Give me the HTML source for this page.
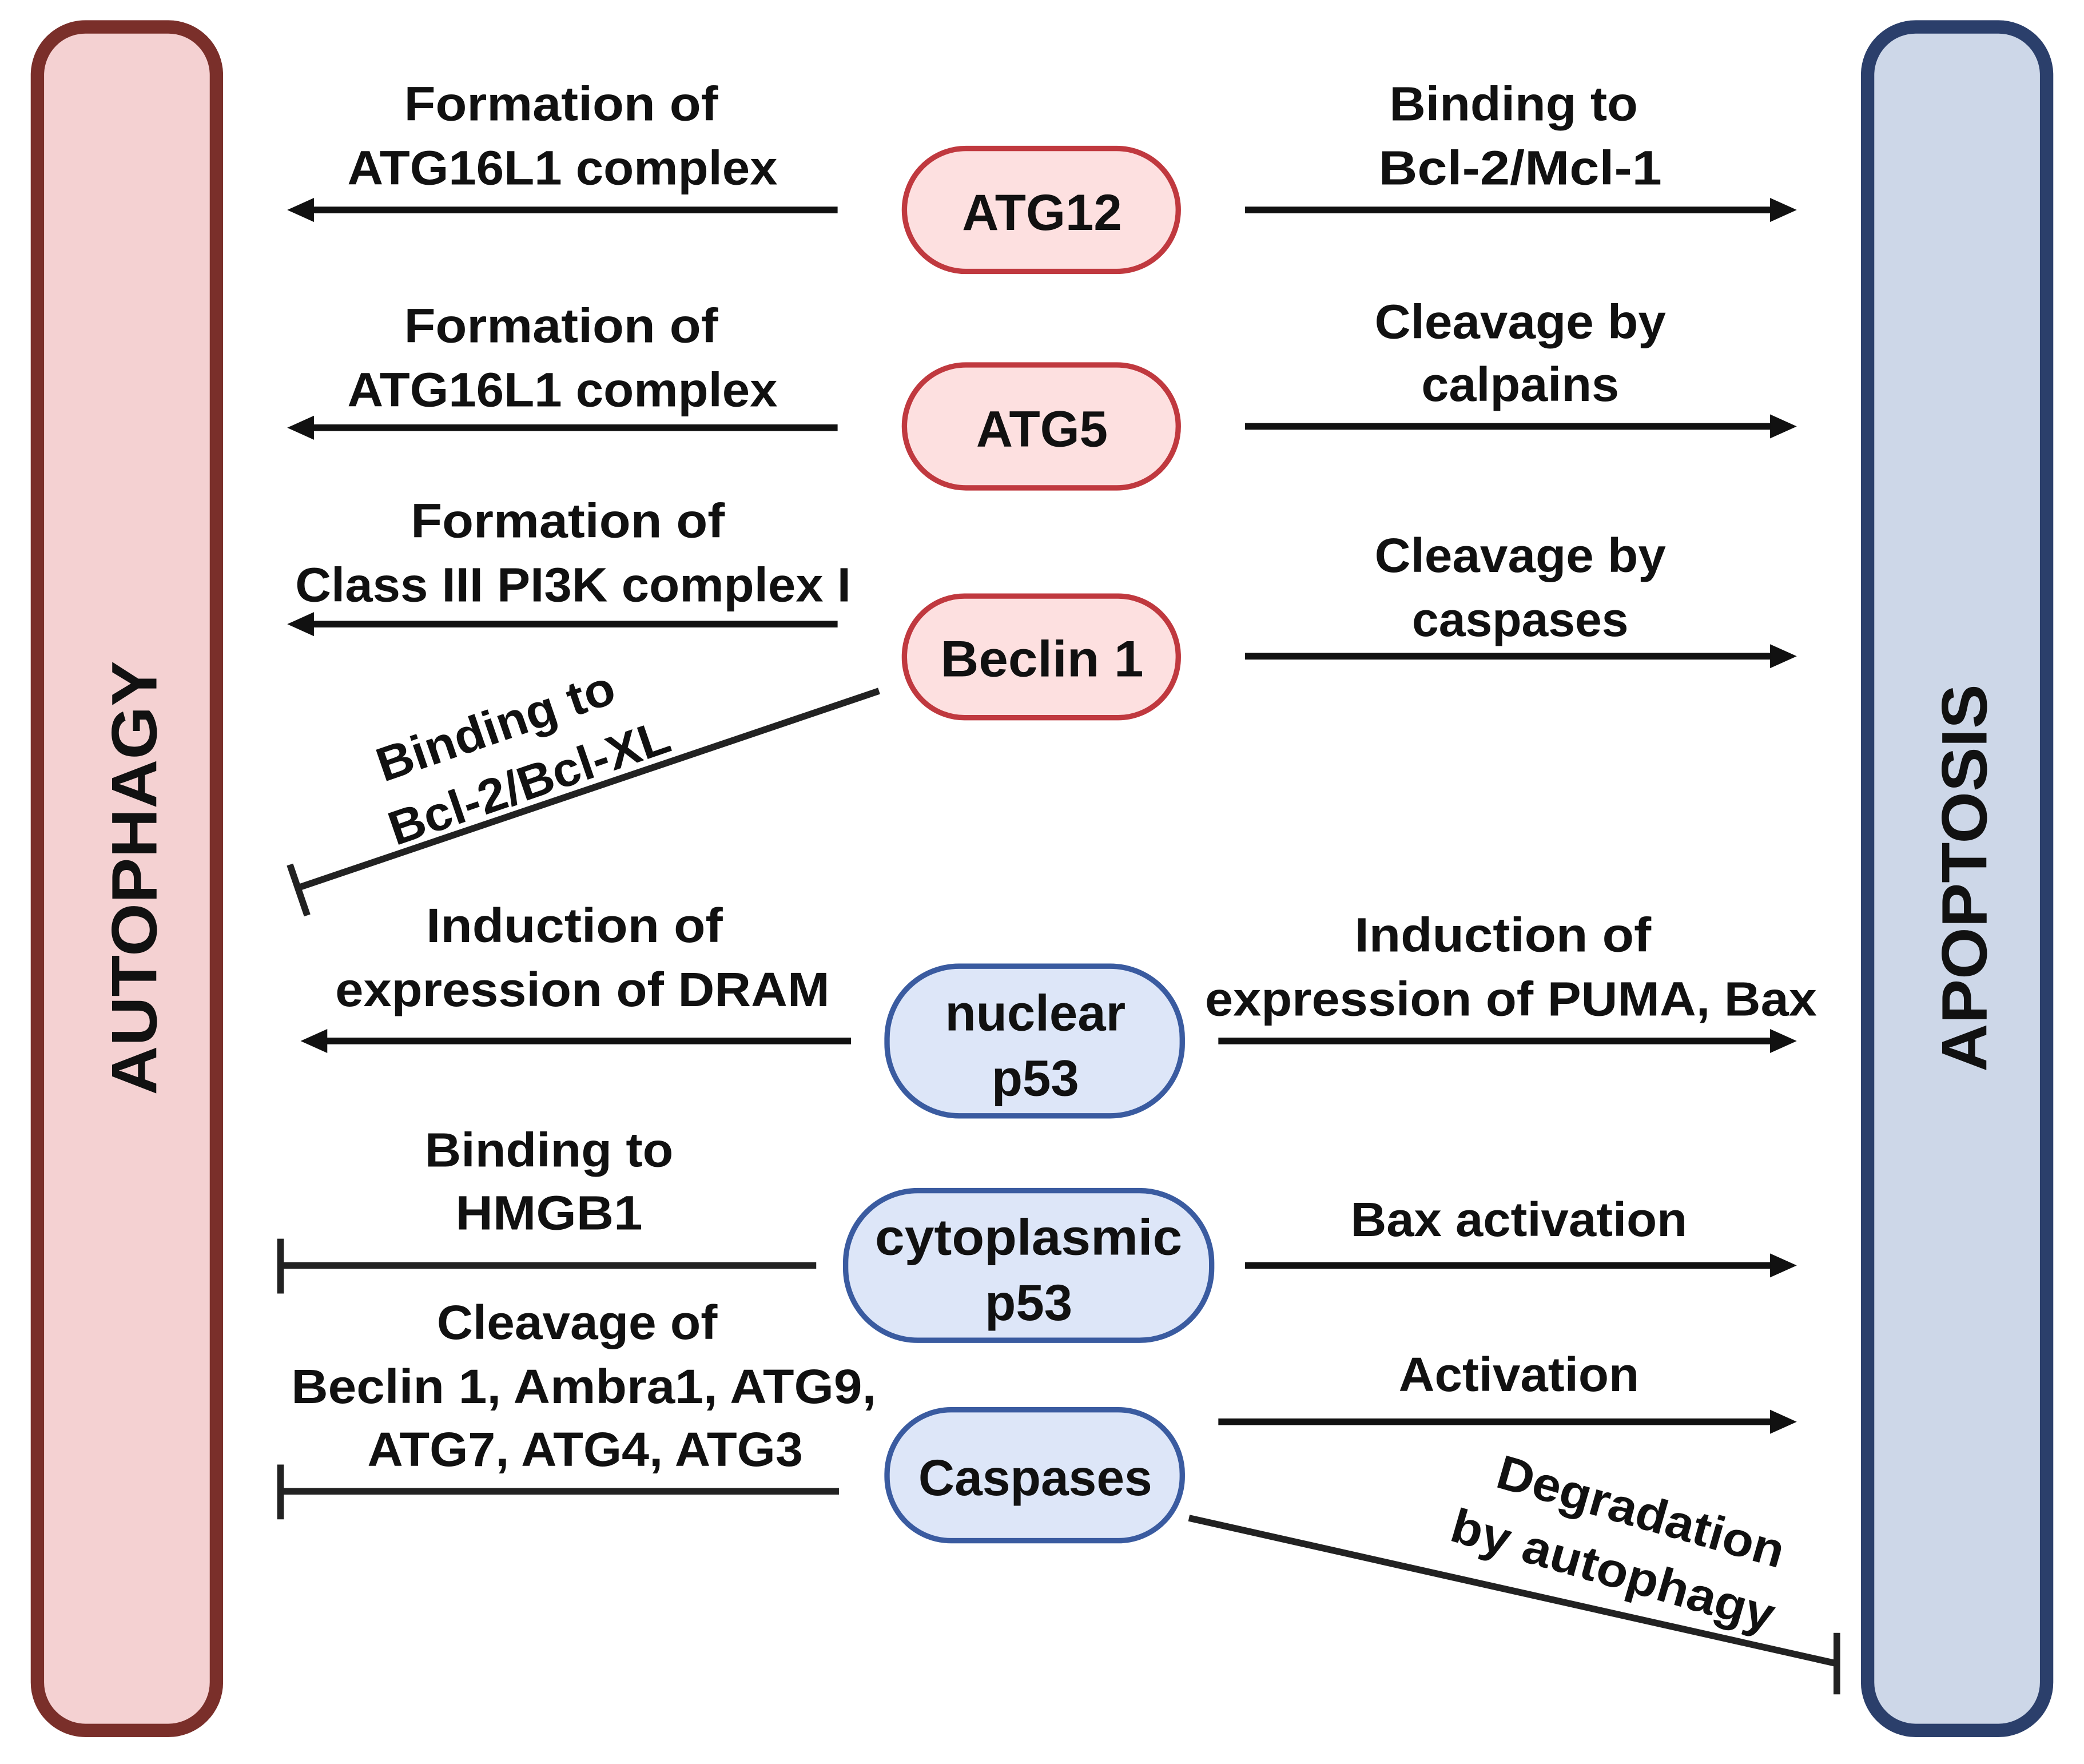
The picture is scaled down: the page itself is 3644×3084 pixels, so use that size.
<!DOCTYPE html>
<html><head><meta charset="utf-8"><style>
html,body{margin:0;padding:0;background:#fff;}
svg{display:block;}
text{font-family:"Liberation Sans",sans-serif;font-weight:bold;fill:#111;}
</style></head><body>
<svg width="3644" height="3084" viewBox="0 0 1560 1320" xmlns="http://www.w3.org/2000/svg">
<rect x="0" y="0" width="1560" height="1320" fill="#fff"/>
<rect x="28" y="20" width="134" height="1275" rx="36" fill="#f4d1d2" stroke="#7a2f2a" stroke-width="10"/>
<rect x="1398" y="20" width="134" height="1275" rx="36" fill="#cdd7e8" stroke="#2b3f6b" stroke-width="10"/>
<text x="0" y="0" font-size="48" text-anchor="middle" transform="translate(117,657) rotate(-90)" textLength="325" lengthAdjust="spacingAndGlyphs">AUTOPHAGY</text>
<text x="0" y="0" font-size="48" text-anchor="middle" transform="translate(1487,657) rotate(-90)" textLength="290" lengthAdjust="spacingAndGlyphs">APOPTOSIS</text>

<g stroke="#111" stroke-width="5" fill="none">
<line x1="627" y1="157" x2="230" y2="157"/>
<line x1="627" y1="320" x2="230" y2="320"/>
<line x1="627" y1="467" x2="230" y2="467"/>
<line x1="637" y1="779" x2="240" y2="779"/>
<line x1="932" y1="157" x2="1330" y2="157"/>
<line x1="932" y1="319" x2="1330" y2="319"/>
<line x1="932" y1="491" x2="1330" y2="491"/>
<line x1="912" y1="779" x2="1330" y2="779"/>
<line x1="932" y1="947" x2="1330" y2="947"/>
<line x1="912" y1="1064" x2="1330" y2="1064"/>
</g>
<g fill="#111">
<polygon points="215,157 235,148 235,166"/>
<polygon points="215,320 235,311 235,329"/>
<polygon points="215,467 235,458 235,476"/>
<polygon points="225,779 245,770 245,788"/>
<polygon points="1345,157 1325,148 1325,166"/>
<polygon points="1345,319 1325,310 1325,328"/>
<polygon points="1345,491 1325,482 1325,500"/>
<polygon points="1345,779 1325,770 1325,788"/>
<polygon points="1345,947 1325,938 1325,956"/>
<polygon points="1345,1064 1325,1055 1325,1073"/>
</g>
<g stroke="#222" stroke-width="5" fill="none">
<line x1="658" y1="517" x2="224" y2="664"/>
<line x1="217" y1="647" x2="230" y2="685"/>
<line x1="611" y1="947" x2="210" y2="947"/>
<line x1="210" y1="927" x2="210" y2="968"/>
<line x1="628" y1="1116" x2="210" y2="1116"/>
<line x1="210" y1="1096" x2="210" y2="1137"/>
<line x1="890" y1="1136" x2="1375" y2="1245"/>
<line x1="1375" y1="1222" x2="1375" y2="1268"/>
</g>

<g stroke-width="4">
<rect x="677" y="111" width="205" height="92" rx="46" fill="#fde0e0" stroke="#c0393f"/>
<rect x="677" y="273" width="205" height="92" rx="46" fill="#fde0e0" stroke="#c0393f"/>
<rect x="677" y="446" width="205" height="91" rx="45" fill="#fde0e0" stroke="#c0393f"/>
<rect x="664" y="723" width="221" height="112" rx="54" fill="#dde6f8" stroke="#3a5ba0"/>
<rect x="633" y="891" width="274" height="112" rx="54" fill="#dde6f8" stroke="#3a5ba0"/>
<rect x="664" y="1055" width="221" height="98" rx="48" fill="#dde6f8" stroke="#3a5ba0"/>
</g>
<g font-size="38" text-anchor="middle">
<text x="780" y="172">ATG12</text>
<text x="780" y="334">ATG5</text>
<text x="780" y="506" textLength="152" lengthAdjust="spacingAndGlyphs">Beclin 1</text>
<text x="775" y="771">nuclear</text>
<text x="775" y="820">p53</text>
<text x="770" y="939" textLength="230" lengthAdjust="spacingAndGlyphs">cytoplasmic</text>
<text x="770" y="988">p53</text>
<text x="775" y="1119" textLength="175" lengthAdjust="spacingAndGlyphs">Caspases</text>
</g>
<g font-size="36" text-anchor="middle">
<text x="420" y="90" textLength="235" lengthAdjust="spacingAndGlyphs">Formation of</text>
<text x="421" y="138" textLength="322" lengthAdjust="spacingAndGlyphs">ATG16L1 complex</text>
<text x="420" y="256" textLength="235" lengthAdjust="spacingAndGlyphs">Formation of</text>
<text x="421" y="304" textLength="322" lengthAdjust="spacingAndGlyphs">ATG16L1 complex</text>
<text x="425" y="402" textLength="235" lengthAdjust="spacingAndGlyphs">Formation of</text>
<text x="429" y="450" textLength="416" lengthAdjust="spacingAndGlyphs">Class III PI3K complex I</text>
<text x="1133" y="90" textLength="186" lengthAdjust="spacingAndGlyphs">Binding to</text>
<text x="1138" y="138" textLength="212" lengthAdjust="spacingAndGlyphs">Bcl-2/Mcl-1</text>
<text x="1138" y="253" textLength="218" lengthAdjust="spacingAndGlyphs">Cleavage by</text>
<text x="1138" y="300" textLength="148" lengthAdjust="spacingAndGlyphs">calpains</text>
<text x="1138" y="428" textLength="218" lengthAdjust="spacingAndGlyphs">Cleavage by</text>
<text x="1138" y="476" textLength="162" lengthAdjust="spacingAndGlyphs">caspases</text>
<text x="430" y="705" textLength="222" lengthAdjust="spacingAndGlyphs">Induction of</text>
<text x="436" y="753" textLength="370" lengthAdjust="spacingAndGlyphs">expression of DRAM</text>
<text x="1125" y="712" textLength="222" lengthAdjust="spacingAndGlyphs">Induction of</text>
<text x="1131" y="760" textLength="458" lengthAdjust="spacingAndGlyphs">expression of PUMA, Bax</text>
<text x="411" y="873" textLength="186" lengthAdjust="spacingAndGlyphs">Binding to</text>
<text x="411" y="920" textLength="140" lengthAdjust="spacingAndGlyphs">HMGB1</text>
<text x="1137" y="925" textLength="252" lengthAdjust="spacingAndGlyphs">Bax activation</text>
<text x="432" y="1002" textLength="210" lengthAdjust="spacingAndGlyphs">Cleavage of</text>
<text x="437" y="1050" textLength="438" lengthAdjust="spacingAndGlyphs">Beclin 1, Ambra1, ATG9,</text>
<text x="438" y="1097" textLength="326" lengthAdjust="spacingAndGlyphs">ATG7, ATG4, ATG3</text>
<text x="1137" y="1041" textLength="180" lengthAdjust="spacingAndGlyphs">Activation</text>
<g transform="translate(375,555) rotate(-19)"><text x="0" y="0" textLength="186" lengthAdjust="spacingAndGlyphs">Binding to</text><text x="10" y="48" textLength="220" lengthAdjust="spacingAndGlyphs">Bcl-2/Bcl-XL</text></g>
<g transform="translate(1225,1143) rotate(16)"><text x="0" y="0" textLength="222" lengthAdjust="spacingAndGlyphs">Degradation</text><text x="-8" y="48" textLength="250" lengthAdjust="spacingAndGlyphs">by autophagy</text></g>
</g>
</svg>
</body></html>
